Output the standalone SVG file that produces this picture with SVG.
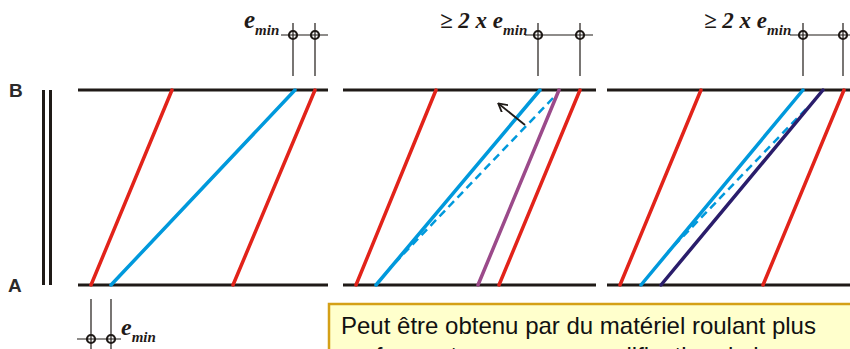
<svg xmlns="http://www.w3.org/2000/svg" width="850" height="349" viewBox="0 0 850 349">
<style>
.base{stroke:#1f1a17;stroke-width:3;fill:none}
.red{stroke:#e2231a;stroke-width:3.5;stroke-linecap:round}
.blue{stroke:#0099dc;stroke-width:3.5;stroke-linecap:round}
.dash{stroke:#0099dc;stroke-width:2.5;stroke-dasharray:8 5}
.purple{stroke:#9b4a8a;stroke-width:3.5;stroke-linecap:round}
.navy{stroke:#2a1d6b;stroke-width:3.5;stroke-linecap:round}
.dim{stroke:#1f1a17;stroke-width:1.2;fill:none}
.ring{stroke:#1f1a17;stroke-width:2.2;fill:none}
.lbl{font-family:"Liberation Sans",Arial,sans-serif;font-weight:bold;font-size:19px;fill:#2b2b2b}
.em{font-family:"Liberation Serif","Times New Roman",serif;font-weight:bold;font-style:italic;fill:#1f1a17}
.note{font-family:"Liberation Sans",Arial,sans-serif;font-size:24px;fill:#111}
</style>
<defs>
<marker id="arr" markerWidth="10" markerHeight="10" refX="8" refY="5" orient="auto" markerUnits="userSpaceOnUse">
<path d="M0,0 L9,5 L0,10" fill="none" stroke="#1f1a17" stroke-width="1.8"/>
</marker>
</defs>

<g id="axis-labels">
<text class="lbl" x="9" y="97">B</text>
<text class="lbl" x="8" y="292">A</text>
<line x1="43.5" y1="90" x2="43.5" y2="285" stroke="#1f1a17" stroke-width="3"/>
<line x1="50.5" y1="90" x2="50.5" y2="285" stroke="#1f1a17" stroke-width="3"/>
</g>

<g id="panel1">
<line class="base" x1="78" y1="90" x2="328" y2="90"/>
<line class="base" x1="78" y1="285" x2="328" y2="285"/>
</g>
<g id="panel2">
<line class="base" x1="343" y1="90" x2="596" y2="90"/>
<line class="base" x1="343" y1="285" x2="596" y2="285"/>
</g>
<g id="panel3">
<line class="base" x1="607" y1="90" x2="850" y2="90"/>
<line class="base" x1="607" y1="285" x2="850" y2="285"/>
</g>

<g id="connectors">
<line class="red" x1="91" y1="285" x2="172" y2="90"/>
<line class="blue" x1="111" y1="285" x2="295" y2="90"/>
<line class="red" x1="233" y1="285" x2="315" y2="90"/>

<line class="red" x1="356" y1="285" x2="436" y2="90"/>
<line class="blue" x1="376" y1="285" x2="540" y2="90"/>
<line class="dash" x1="553" y1="98" x2="390" y2="268"/>
<line class="purple" x1="478" y1="285" x2="559" y2="90"/>
<line class="red" x1="499" y1="285" x2="580" y2="90"/>
<line x1="525" y1="125" x2="499" y2="104" stroke="#1f1a17" stroke-width="1.8" marker-end="url(#arr)"/>

<line class="red" x1="620" y1="285" x2="701" y2="90"/>
<line class="blue" x1="641" y1="285" x2="803" y2="90"/>
<line class="dash" x1="806" y1="109" x2="668" y2="252"/>
<line class="navy" x1="661" y1="285" x2="823" y2="90"/>
<line class="red" x1="763" y1="285" x2="844" y2="90"/>
</g>

<g id="dim1">
<line class="dim" x1="281" y1="35" x2="328" y2="35"/>
<line class="dim" x1="293" y1="23" x2="293" y2="76"/>
<line class="dim" x1="315" y1="23" x2="315" y2="76"/>
<circle class="ring" cx="293" cy="35" r="4"/>
<circle class="ring" cx="315" cy="35" r="4"/>
<text class="em" x="244" y="28" font-size="25">e<tspan font-size="15" dy="7">min</tspan></text>
</g>

<g id="dim2">
<line class="dim" x1="525" y1="35" x2="593" y2="35"/>
<line class="dim" x1="538" y1="23" x2="538" y2="76"/>
<line class="dim" x1="580" y1="23" x2="580" y2="76"/>
<circle class="ring" cx="538" cy="35" r="4"/>
<circle class="ring" cx="580" cy="35" r="4"/>
<text class="em" x="440" y="28" font-size="23">≥ 2 x e<tspan font-size="15" dy="7">min</tspan></text>
</g>

<g id="dim3">
<line class="dim" x1="790" y1="35" x2="850" y2="35"/>
<line class="dim" x1="803" y1="23" x2="803" y2="76"/>
<line class="dim" x1="843" y1="23" x2="843" y2="76"/>
<circle class="ring" cx="803" cy="35" r="4"/>
<circle class="ring" cx="843" cy="35" r="4"/>
<text class="em" x="704" y="28" font-size="23">≥ 2 x e<tspan font-size="15" dy="7">min</tspan></text>
</g>

<g id="dim-bottom">
<line class="dim" x1="77" y1="339" x2="121" y2="339"/>
<line class="dim" x1="91" y1="299" x2="91" y2="349"/>
<line class="dim" x1="111" y1="299" x2="111" y2="349"/>
<circle class="ring" cx="91" cy="339" r="4"/>
<circle class="ring" cx="111" cy="339" r="4"/>
<text class="em" x="121" y="335" font-size="24">e<tspan font-size="15" dy="7">min</tspan></text>
</g>

<g id="note">
<rect x="329" y="304" width="530" height="60" fill="#ffffcc" stroke="#d4a017" stroke-width="2.5"/>
<text class="note" x="341" y="334">Peut être obtenu par du matériel roulant plus</text>
<text class="note" x="341" y="364">performant ou par une modification de la</text>
</g>
</svg>
